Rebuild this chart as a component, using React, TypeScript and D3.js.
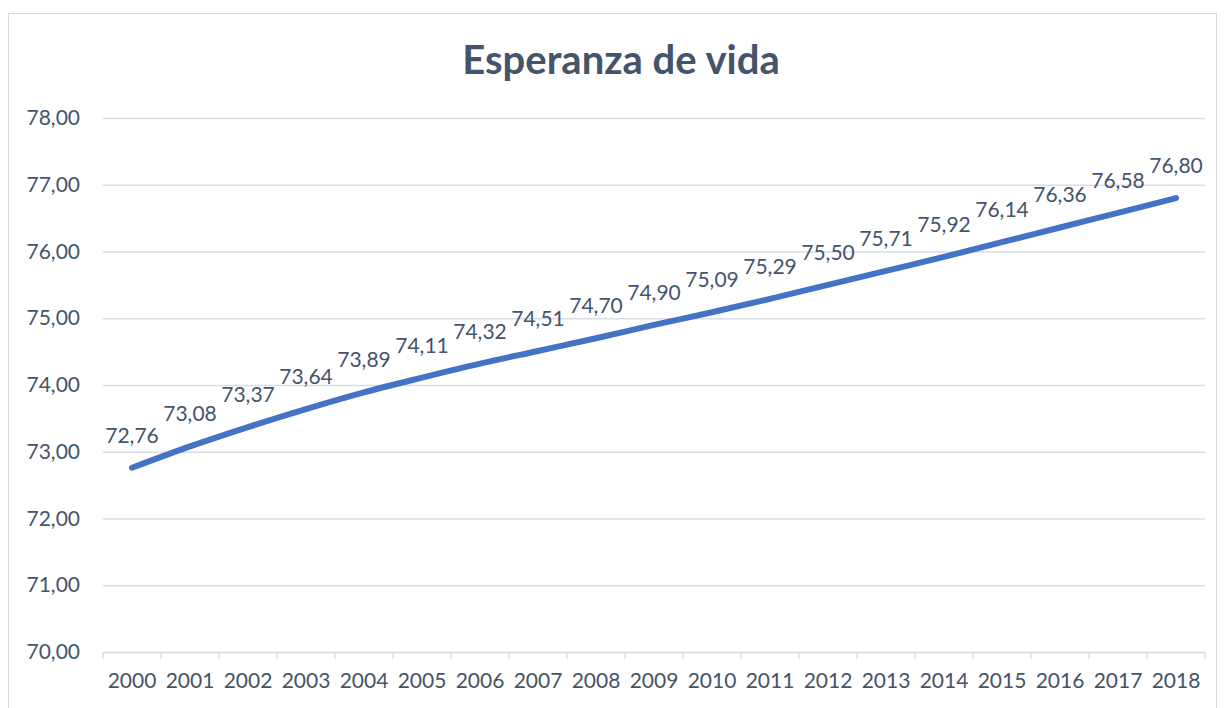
import React, { useEffect, useRef } from 'react';
import { select, scaleBand, scaleLinear, line, curveCatmullRom, axisBottom, axisLeft, range } from 'd3';

const years = ['2000', '2001', '2002', '2003', '2004', '2005', '2006', '2007', '2008', '2009',
  '2010', '2011', '2012', '2013', '2014', '2015', '2016', '2017', '2018'];
const esperanza = [72.76, 73.08, 73.37, 73.64, 73.89, 74.11, 74.32, 74.51, 74.70, 74.90,
  75.09, 75.29, 75.50, 75.71, 75.92, 76.14, 76.36, 76.58, 76.80];
const yTicks = [70, 71, 72, 73, 74, 75, 76, 77, 78];

const W = 1224;
const H = 708;
const FONT = 'Lato, "Open Sans", sans-serif';
const TEXT = '#44546A';

function App() {
  const svgRef = useRef(null);

  useEffect(() => {
    const svg = select(svgRef.current);
    svg.selectAll('*').remove();

    const x = scaleBand().domain(years).range([103, 1205]);
    const y = scaleLinear().domain([70, 78]).range([652, 118]);
    const fmt = (v) => v.toFixed(2).replace('.', ',');

    svg.append('rect')
      .attr('x', 8.5).attr('y', 13.5)
      .attr('width', 1208).attr('height', 720)
      .attr('fill', '#fff').attr('stroke', '#D9D9D9');

    svg.append('text')
      .attr('x', 621).attr('y', 74)
      .attr('text-anchor', 'middle')
      .attr('font-family', FONT).attr('font-weight', 700)
      .attr('font-size', 40).attr('fill', TEXT)
      .text('Esperanza de vida');

    // grid
    const yAxis = axisLeft(y).tickValues(yTicks).tickSize(-(1205 - 103)).tickPadding(23).tickFormat(fmt);
    const gy = svg.append('g').attr('transform', 'translate(103,0)').call(yAxis);
    gy.select('.domain').remove();
    gy.selectAll('line').attr('stroke', '#D9DDE3').attr('stroke-width', 1.3);
    gy.selectAll('text')
      .attr('font-family', FONT).attr('font-size', 21).attr('fill', TEXT);

    // x axis
    const xAxis = axisBottom(x).tickSize(0).tickPadding(21);
    const gx = svg.append('g').attr('transform', 'translate(0,652)').call(xAxis);
    gx.select('.domain').attr('stroke', '#D9DDE3').attr('stroke-width', 1.5);
    gx.selectAll('text')
      .attr('font-family', FONT).attr('font-size', 21).attr('fill', TEXT);
    gx.selectAll('.sep')
      .data(range(years.length + 1))
      .join('line')
      .attr('class', 'sep')
      .attr('x1', (i) => 103 + i * x.step()).attr('x2', (i) => 103 + i * x.step())
      .attr('y1', 0).attr('y2', 7)
      .attr('stroke', '#D9DDE3').attr('stroke-width', 1.5);

    const cx = (d, i) => x(years[i]) + x.bandwidth() / 2;
    const path = line()
      .x(cx)
      .y((d) => y(d))
      .curve(curveCatmullRom);
    svg.append('path')
      .datum(esperanza)
      .attr('d', path)
      .attr('fill', 'none')
      .attr('stroke', '#4472C4')
      .attr('stroke-width', 6)
      .attr('stroke-linecap', 'round');

    svg.selectAll('.lbl')
      .data(esperanza)
      .join('text')
      .attr('class', 'lbl')
      .attr('x', cx)
      .attr('y', (d) => y(d) - 25)
      .attr('text-anchor', 'middle')
      .attr('font-family', FONT).attr('font-size', 21).attr('fill', TEXT)
      .text(fmt);
  }, []);

  return (
    <div style={{ position: 'absolute', left: 0, top: 0 }}>
      <svg ref={svgRef} width={W} height={H} style={{ display: 'block', background: '#fff' }} />
    </div>
  );
}

export default App;
